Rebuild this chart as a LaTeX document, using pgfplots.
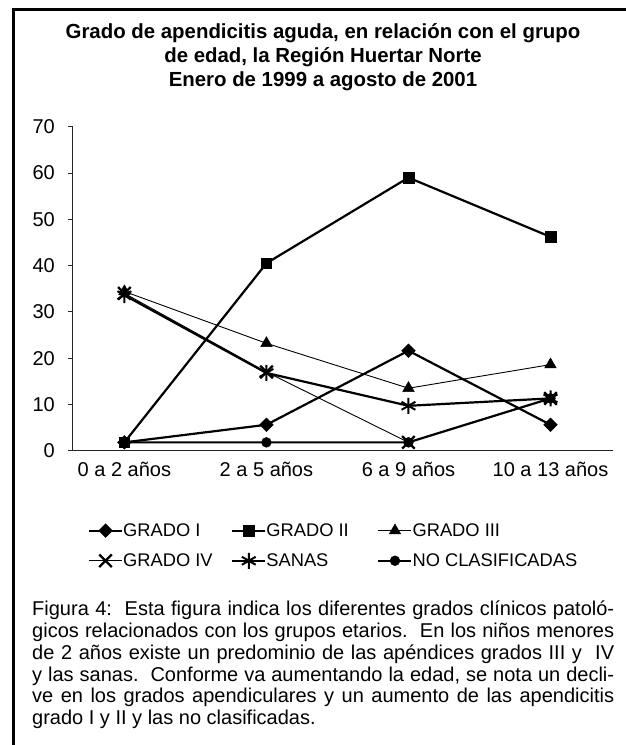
\documentclass[border=0pt]{standalone}
\usepackage{fontspec}
\setmainfont{Liberation Sans}
\usepackage{pgfplots}
\pgfplotsset{compat=1.18}
\pgfdeclareplotmark{fatx}{%
  \pgfsetlinewidth{2.3pt}%
  \pgfpathmoveto{\pgfqpoint{-\pgfplotmarksize}{-\pgfplotmarksize}}%
  \pgfpathlineto{\pgfqpoint{\pgfplotmarksize}{\pgfplotmarksize}}%
  \pgfpathmoveto{\pgfqpoint{-\pgfplotmarksize}{\pgfplotmarksize}}%
  \pgfpathlineto{\pgfqpoint{\pgfplotmarksize}{-\pgfplotmarksize}}%
  \pgfusepathqstroke}
\begin{document}
\begin{tikzpicture}[x=1pt,y=1pt]
\path[use as bounding box] (0,0) rectangle (626,745);
\draw[line width=3pt] (13.5,0) -- (13.5,735) -- (626,735);
% title
\begin{scope}[every node/.style={font=\bfseries\fontsize{20.4}{24}\selectfont, anchor=base, inner sep=0pt}]
\node at (323,745-38.5) {Grado de apendicitis aguda, en relación con el grupo};
\node at (323,745-62.5) {de edad, la Región Huertar Norte};
\node at (323,745-86.5) {Enero de 1999 a agosto de 2001};
\end{scope}
\begin{axis}[
  at={(72.7pt,294.3pt)}, anchor=south west,
  width=540.3pt, height=324pt, scale only axis,
  xmin=-0.364, xmax=3.44, ymin=0, ymax=70,
  axis x line*=bottom, axis y line*=left,
  axis line style={-, black!85, line width=0.9pt},
  xtick={0,1,2,3},
  xticklabels={0 a 2 años, 2 a 5 años, 6 a 9 años, 10 a 13 años},
  x tick style={draw=none},
  ytick={0,10,...,70},
  tick align=outside, major tick length=4.5pt,
  y tick style={black!85, line width=0.9pt},
  tick label style={font=\fontsize{20}{22}\selectfont},
  yticklabel style={inner sep=0pt, xshift=-13.2pt},
  xticklabel style={yshift=-3.5pt},
  /pgf/number format/assume math mode=true,
  clip=false,
  legend columns=3,
  legend cell align=left,
  legend style={draw=none, fill=none, at={(rel axis cs:0.0283,-0.2247)}, anchor=north west,
     inner sep=0pt, outer sep=0pt, row sep=15pt, column sep=0pt,
     nodes={inner sep=0pt}, font=\fontsize{18.3}{20}\selectfont},
  legend image code/.code={\draw[mark repeat=2,mark phase=2] plot coordinates {(0pt,0pt) (16.5pt,0pt) (33pt,0pt)};},
]
\addplot[black, line width=2.2pt, mark=square*, mark size=4.8pt, mark options={rotate=45, solid, line width=0.5pt}]
  coordinates {(0,1.8) (1,5.6) (2,21.6) (3,5.6)};
\addlegendentry{\makebox[108pt][l]{GRADO I}}
\addplot[black, line width=2.2pt, mark=square*, mark size=5.3pt, mark options={solid, line width=0.5pt}]
  coordinates {(0,1.8) (1,40.5) (2,59.0) (3,46.2)};
\addlegendentry{\makebox[111pt][l]{GRADO II}}
\addplot[black, line width=0.9pt, mark=triangle*, mark size=6.6pt, mark options={solid, line width=0.5pt}]
  coordinates {(0,34.4) (1,23.2) (2,13.5) (3,18.6)};
\addlegendentry{GRADO III}
\addplot[black, line width=0.9pt, mark=fatx, mark size=6.3pt, mark options={solid}]
  coordinates {(0,34.0) (1,17.0) (2,1.8) (3,11.3)};
\addlegendentry{\makebox[108pt][l]{GRADO IV}}
\addplot[black, line width=2.2pt, mark=asterisk, mark size=8pt, mark options={solid, line width=2pt}]
  coordinates {(0,33.6) (1,16.8) (2,9.7) (3,11.3)};
\addlegendentry{\makebox[111pt][l]{SANAS}}
\addplot[black, line width=2.2pt, mark=*, mark size=4.9pt, mark options={solid, line width=0.5pt}]
  coordinates {(0,1.8) (1,1.8) (2,1.8) (3,11.3)};
\addlegendentry{NO CLASIFICADAS}
\end{axis}
% caption
\begin{scope}[every node/.style={font=\fontsize{20}{21.7}\selectfont, anchor=base west, inner sep=0pt}]
\node at (32,745-616) {\makebox[582pt][s]{Figura 4:\ \ Esta figura indica los diferentes grados clínicos patoló-}};
\node at (32,745-638) {\makebox[582pt][s]{gicos relacionados con los grupos etarios.\ \ En los niños menores}};
\node at (32,745-660) {\makebox[582pt][s]{de 2 años existe un predominio de las apéndices grados III y\ \ IV}};
\node at (32,745-681.5) {\makebox[582pt][s]{y las sanas.\ \ Conforme va aumentando la edad, se nota un decli-}};
\node at (32,745-703) {\makebox[582pt][s]{ve en los grados apendiculares y un aumento de las apendicitis}};
\node at (32,745-724.5) {grado I y II y las no clasificadas.};
\end{scope}
\end{tikzpicture}
\end{document}
